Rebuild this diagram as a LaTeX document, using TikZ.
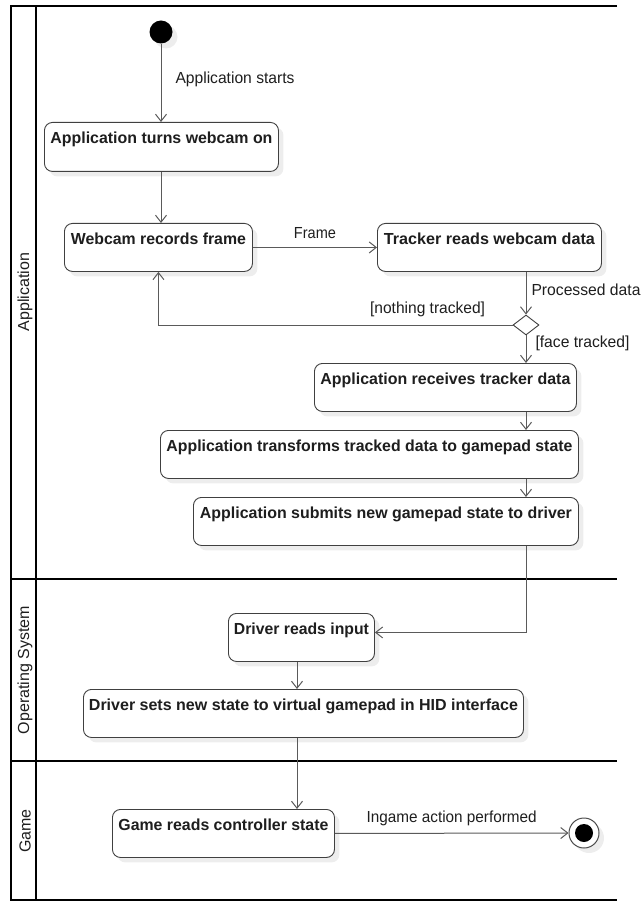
\documentclass[tikz,border=0pt]{standalone}
\usepackage{fontspec}
\setmainfont{Liberation Sans}
\usetikzlibrary{arrows.meta,shapes.geometric,shadows}
\definecolor{linegray}{HTML}{5A5A5A}
\definecolor{txt}{HTML}{1E1E1E}
\newcommand\fitw[2]{\resizebox{#1}{\height}{#2}}
\begin{document}
\begin{tikzpicture}[x=1pt,y=-1pt,
  font=\fontsize{16pt}{18pt}\selectfont,
  act/.style={draw=black!75, line width=0.9pt, rounded corners=8pt, fill=white,
    inner sep=0pt, text height=21pt, text depth=27pt, anchor=north west,
    text=txt, font=\fontsize{16pt}{18pt}\selectfont\bfseries,
    drop shadow={shadow xshift=5pt, shadow yshift=-5pt, fill=black, opacity=0.07}},
  lbl/.style={inner sep=0pt, text=txt},
  arr/.style={draw=linegray, line width=1pt, -{Straight Barb[length=7pt,width=11pt]}},
  lane/.style={draw=black, line width=2pt},
  lanetxt/.style={rotate=90, inner sep=0pt, text=txt}
]
\useasboundingbox (0,0) rectangle (641,901);
% swimlane frame
\draw[lane] (617,6.5) -- (11,6.5) -- (11,900) -- (617,900);
\draw[lane] (35.5,6.5) -- (35.5,900);
\draw[lane] (11,579) -- (617,579);
\draw[lane] (11,761) -- (617,761);
\node[lanetxt] (ln1) at (25,292) {Application};
\node[lanetxt] (ln2) at (25,670) {Operating System};
\node[lanetxt] (ln3) at (25,831) {Game};

% initial and final nodes
\node[circle, fill=black, minimum size=23pt, inner sep=0pt,
  drop shadow={shadow xshift=5pt, shadow yshift=-5pt, fill=black, opacity=0.07}] (start) at (161,32) {};
\node[circle, draw=black!70, line width=1pt, fill=white, minimum size=30pt, inner sep=0pt,
  drop shadow={shadow xshift=5pt, shadow yshift=-5pt, fill=black, opacity=0.07}] (end) at (584,833) {};
\node[circle, fill=black, minimum size=18pt, inner sep=0pt] (endin) at (end.center) {};

% actions
\node[act, minimum width=234pt, minimum height=49pt] (b1) at (44,122) {\fitw{222pt}{Application turns webcam on}};
\node[act, minimum width=188pt, minimum height=48pt] (b2) at (64,223) {\fitw{175pt}{Webcam records frame}};
\node[act, minimum width=224pt, minimum height=48pt] (b3) at (377,223) {\fitw{211pt}{Tracker reads webcam data}};
\node[act, minimum width=262pt, minimum height=48pt] (b4) at (314,363) {\fitw{250pt}{Application receives tracker data}};
\node[act, minimum width=418pt, minimum height=47pt] (b5) at (160,430) {\fitw{406pt}{Application transforms tracked data to gamepad state}};
\node[act, minimum width=385pt, minimum height=48pt] (b6) at (193,497) {\fitw{372pt}{Application submits new gamepad state to driver}};
\node[act, minimum width=146pt, minimum height=48pt] (b7) at (228,613) {\fitw{135pt}{Driver reads input}};
\node[act, minimum width=440pt, minimum height=48pt] (b8) at (83,689) {\fitw{429pt}{Driver sets new state to virtual gamepad in HID interface}};
\node[act, minimum width=222pt, minimum height=48pt] (b9) at (112,809) {\fitw{210pt}{Game reads controller state}};

% decision
\node[diamond, draw=black!75, line width=0.9pt, fill=white, minimum width=26pt, minimum height=20pt, inner sep=0pt] (dec) at (526,325) {};
\coordinate (colM) at (297,0);

% connectors
\draw[arr] (start.south) -- (start.south |- b1.north)
  node[lbl, pos=0.45, anchor=west, xshift=14pt] {\fitw{119pt}{Application starts}};
\draw[arr] (b1.south -| start) -- (b2.north -| start);
\draw[arr] (b2.east) -- node[lbl, above=8pt] {\fitw{42pt}{Frame}} (b3.west);
\draw[arr] (b3.south -| dec) -- (dec.north)
  node[lbl, pos=0.43, anchor=west, xshift=5pt] {\fitw{109pt}{Processed data}};
\draw[arr] (dec.west) -| (b2.south)
  node[lbl, pos=0.12, above=8pt] {\fitw{115pt}{[nothing tracked]}};
\draw[arr] (dec.south) -- (dec.south |- b4.north)
  node[lbl, pos=0.3, anchor=west, xshift=9pt] {\fitw{94pt}{[face tracked]}};
\draw[arr] (b4.south -| dec) -- (b5.north -| dec);
\draw[arr] (b5.south -| dec) -- (b6.north -| dec);
\draw[arr] (b6.south -| dec) |- ([yshift=5pt]b7.east);
\draw[arr] (b7.south -| colM) -- (b8.north -| colM);
\draw[arr] (b8.south -| colM) -- (b9.north -| colM);
\draw[arr] (b9.east) -- node[lbl, above=7pt] {\fitw{170pt}{Ingame action performed}} (end.west);
\end{tikzpicture}
\end{document}
